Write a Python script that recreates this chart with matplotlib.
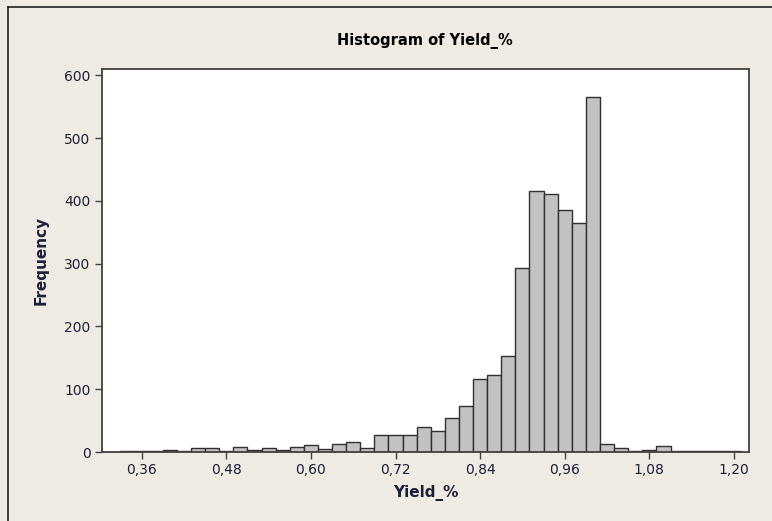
import matplotlib
matplotlib.use("Agg")
import matplotlib.pyplot as plt
from matplotlib.lines import Line2D

# Data: histogram bin centers and counts
bin_centers = [0.34, 0.36, 0.38, 0.40, 0.42, 0.44, 0.46, 0.48, 0.50, 0.52,
               0.54, 0.56, 0.58, 0.60, 0.62, 0.64, 0.66, 0.68, 0.70, 0.72,
               0.74, 0.76, 0.78, 0.80, 0.82, 0.84, 0.86, 0.88, 0.90, 0.92,
               0.94, 0.96, 0.98, 1.00, 1.02, 1.04, 1.06, 1.08, 1.10, 1.12,
               1.14, 1.16, 1.18, 1.20]
counts = [1, 2, 2, 4, 2, 6, 6, 2, 8, 3,
          6, 4, 8, 11, 5, 13, 16, 7, 27, 27,
          27, 40, 34, 54, 73, 116, 122, 153, 293, 415,
          411, 385, 364, 566, 12, 7, 1, 3, 10, 1,
          1, 1, 1, 1]
bin_width = 0.02
x_ticks = [0.36, 0.48, 0.60, 0.72, 0.84, 0.96, 1.08, 1.20]
x_tick_labels = ["0,36", "0,48", "0,60", "0,72", "0,84", "0,96", "1,08", "1,20"]
y_ticks = [0, 100, 200, 300, 400, 500, 600]

bg = "#EFEBE2"
txt = "#1b1f3a"

fig = plt.figure(figsize=(7.72, 5.21), dpi=100, facecolor=bg)
ax = fig.add_axes([0.1317, 0.1324, 0.9702 - 0.1317, 0.8676 - 0.1324])
ax.set_facecolor("white")

ax.bar(bin_centers, counts, width=bin_width, color="#C2C2C2",
       edgecolor="#303030", linewidth=1.0, align="center")

ax.set_xlim(0.3033, 1.2213)
ax.set_ylim(0, 610)
ax.set_xticks(x_ticks)
ax.set_xticklabels(x_tick_labels)
ax.set_yticks(y_ticks)

for s in ax.spines.values():
    s.set_color("#404040")
    s.set_linewidth(1.3)

ax.tick_params(axis="both", direction="out", length=5, width=1.0,
               color="#404040", labelsize=10, labelcolor=txt, pad=3)

ax.set_title("Histogram of Yield_%", fontsize=10.5, fontweight="bold",
             color="black", pad=17)
ax.set_xlabel("Yield_%", fontsize=11, fontweight="bold", color=txt, labelpad=6)
ax.set_ylabel("Frequency", fontsize=11, fontweight="bold", color=txt, labelpad=11)

# window frame lines (left and top)
fig.add_artist(Line2D([7.5 / 772, 7.5 / 772], [0, 1 - 6.5 / 521],
                      transform=fig.transFigure, color="#202020", linewidth=1.2))
fig.add_artist(Line2D([7.5 / 772, 1], [1 - 6.5 / 521, 1 - 6.5 / 521],
                      transform=fig.transFigure, color="#202020", linewidth=1.2))

fig.savefig("out.png", dpi=100, facecolor=bg)
